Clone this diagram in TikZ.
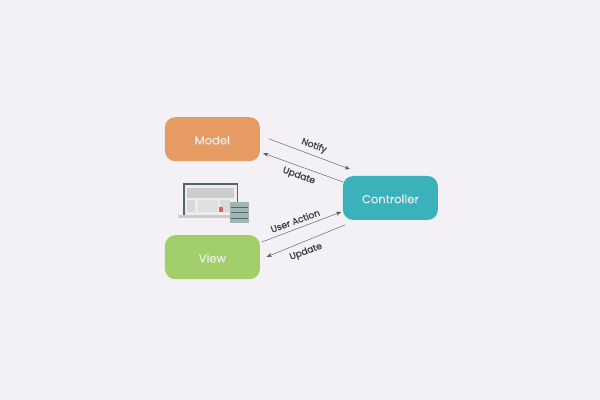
\documentclass[tikz,border=0pt]{standalone}
\usepackage{fontspec}
\setmainfont[FakeBold=0.35]{Poppins}
\newfontfamily\tagfont[FakeBold=0.9]{Poppins}
\usetikzlibrary{arrows.meta}
\definecolor{bgcol}{HTML}{F3F0F6}
\definecolor{modelcol}{HTML}{E59B62}
\definecolor{viewcol}{HTML}{A3CF6B}
\definecolor{ctrlcol}{HTML}{3BB1BC}
\definecolor{linecol}{HTML}{55585C}
\definecolor{textcol}{HTML}{3C3F44}
\definecolor{framecol}{HTML}{4F666E}
\definecolor{servercol}{HTML}{A3B5B3}
\tikzstyle{none}=[inner sep=0pt]
\tikzstyle{box}=[rounded corners=2.6mm, minimum width=2.375cm, minimum height=1.1cm, text height=2.6mm, text depth=0pt, text=white!92!black, font=\fontsize{8.2}{10}\selectfont]
\tikzstyle{link}=[draw=linecol, line width=0.3pt, -{Stealth[length=1.3mm,width=1mm]}]
\tikzstyle{tag}=[inner sep=0pt, text=textcol, font=\tagfont\fontsize{6.5}{8}\selectfont]

\begin{document}
\begin{tikzpicture}
                \useasboundingbox (0, 0) rectangle (15, 10);
                \fill [bgcol] (0, 0) rectangle (15, 10);
                \node [style=box, fill=modelcol] (model) at (5.31, 6.52) {Model};
                \node [style=box, fill=viewcol] (view) at (5.31, 3.57) {View};
                \node [style=box, fill=ctrlcol] (controller) at (9.76, 5.05) {Controller};
                \node [style=none] (notifya) at (6.72, 6.53) {};
                \node [style=none] (notifyb) at (8.75, 5.77) {};
                \node [style=none] (updatea) at (8.58, 5.45) {};
                \node [style=none] (updateb) at (6.58, 6.17) {};
                \node [style=none] (actiona) at (6.55, 3.95) {};
                \node [style=none] (actionb) at (8.53, 4.70) {};
                \node [style=none] (updatec) at (8.63, 4.38) {};
                \node [style=none] (updated) at (6.67, 3.58) {};
                \node [style=tag, rotate=-20] (notifytag) at (7.85, 6.35) {Notify};
                \node [style=tag, rotate=-20] (updatetag) at (7.47, 5.60) {Update};
                \node [style=tag, rotate=20] (actiontag) at (7.38, 4.48) {User Action};
                \node [style=tag, rotate=20] (updatetagb) at (7.65, 3.70) {Update};
                \draw [style=link] (notifya.center) to (notifyb.center);
                \draw [style=link] (updatea.center) to (updateb.center);
                \draw [style=link] (actiona.center) to (actionb.center);
                \draw [style=link] (updatec.center) to (updated.center);
                % laptop
                \fill [white!85!gray] (4.60, 4.62) rectangle (5.93, 5.40);
                \draw [draw=framecol, line width=0.9pt] (4.60, 4.62) rectangle (5.93, 5.40);
                \fill [gray!40] (4.45, 4.55) rectangle (6.02, 4.62);
                \fill [gray!40] (4.68, 5.05) rectangle (5.85, 5.30);
                \fill [gray!30] (4.68, 4.70) rectangle (4.88, 5.00);
                \fill [gray!25] (4.95, 4.70) rectangle (5.45, 5.00);
                \fill [gray!30] (5.50, 4.70) rectangle (5.75, 5.00);
                \fill [red!65!gray!75] (5.47, 4.70) rectangle (5.57, 4.82);
                % server
                \fill [servercol] (5.75, 4.42) rectangle (6.23, 4.95);
                \foreach \y in {4.55, 4.68, 4.81}
                        \draw [draw=framecol, line width=0.5pt] (5.78, \y) to (6.20, \y);
\end{tikzpicture}
\end{document}
